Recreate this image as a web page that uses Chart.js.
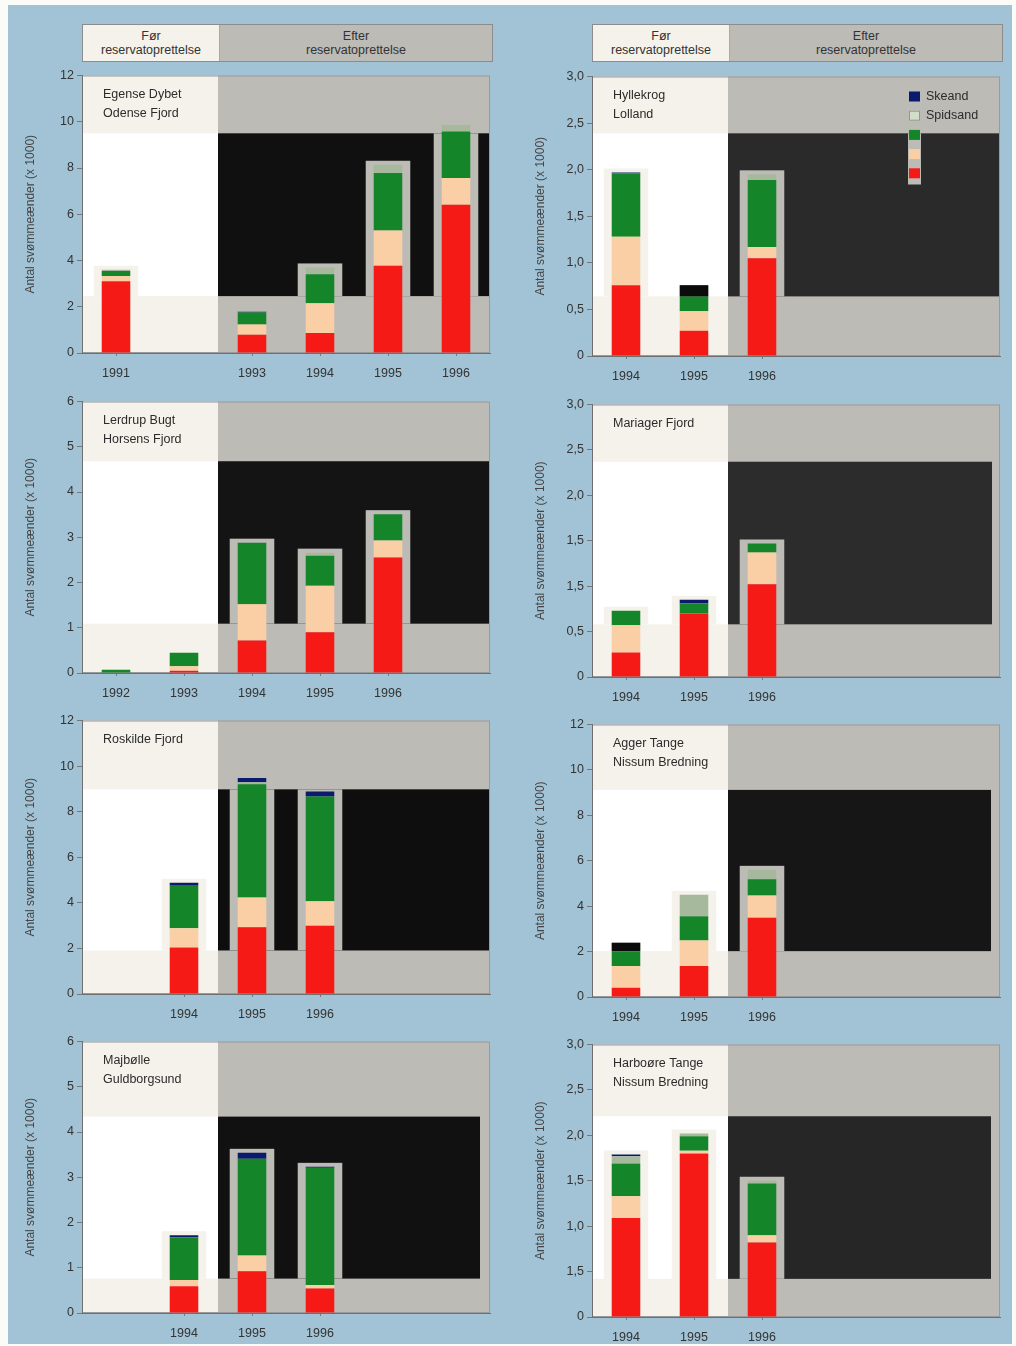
<!DOCTYPE html>
<html>
<head>
<meta charset="utf-8">
<script src="https://cdn.jsdelivr.net/npm/chart.js@4.4.1/dist/chart.umd.min.js"></script>
<style>
html, body { margin: 0; padding: 0; background: #fbfbf8; width: 1016px; height: 1346px; overflow: hidden; font-family: "Liberation Sans", Arial, sans-serif; }
#bg { position: absolute; left: 8px; top: 5px; width: 1004px; height: 1339px; background: #a2c3d5; }
.hdr { position: absolute; top: 24px; height: 38px; width: 411px; border: 1px solid #8c8c8c; box-sizing: border-box; display: flex; font-size: 12.5px; color: #333; line-height: 14px; }
.hdr div { display: flex; flex-direction: column; justify-content: center; align-items: center; }
.hdr .f { width: 136px; background: #f4f2eb; border-right: 1px solid #aaa; }
.hdr .e { flex: 1; background: #bdbbb6; }
canvas { position: absolute; }
</style>
</head>
<body>
<div id="bg"></div>
<div class="hdr" style="left:82px"><div class="f"><span>Før</span><span>reservatoprettelse</span></div><div class="e"><span>Efter</span><span>reservatoprettelse</span></div></div>
<div class="hdr" style="left:592px"><div class="f"><span>Før</span><span>reservatoprettelse</span></div><div class="e"><span>Efter</span><span>reservatoprettelse</span></div></div>
<script>
// panels, in reading order (left, right, row by row)
const panelNames = [
  ['Egense Dybet', 'Odense Fjord'],
  ['Hyllekrog', 'Lolland'],
  ['Lerdrup Bugt', 'Horsens Fjord'],
  ['Mariager Fjord'],
  ['Roskilde Fjord'],
  ['Agger Tange', 'Nissum Bredning'],
  ['Majbølle', 'Guldborgsund'],
  ['Harboøre Tange', 'Nissum Bredning']
];

const years = [
  ['1991', '', '1993', '1994', '1995', '1996'],
  ['1994', '1995', '1996', '', '', ''],
  ['1992', '1993', '1994', '1995', '1996', ''],
  ['1994', '1995', '1996', '', '', ''],
  ['', '1994', '1995', '1996', '', ''],
  ['1994', '1995', '1996', '', '', ''],
  ['', '1994', '1995', '1996', '', ''],
  ['1994', '1995', '1996', '', '', '']
];

// stacked series, bottom to top (x 1000 birds)
const redSeries = [
  [3.10, null, 0.79, 0.86, 3.77, 6.41],
  [0.76, 0.27, 1.05],
  [null, 0.05, 0.72, 0.90, 2.55],
  [0.27, 0.70, 1.02],
  [null, 2.04, 2.93, 2.99],
  [0.41, 1.36, 3.49],
  [null, 0.59, 0.92, 0.54],
  [1.09, 1.80, 0.82]
];
const peachSeries = [
  [0.23, null, 0.44, 1.29, 1.53, 1.16],
  [0.52, 0.21, 0.12],
  [null, 0.10, 0.80, 1.03, 0.38],
  [0.30, null, 0.35],
  [null, 0.85, 1.30, 1.08],
  [0.95, 1.13, 0.98],
  [null, 0.14, 0.35, 0.08],
  [0.24, 0.03, 0.08]
];
const greenSeries = [
  [0.22, null, 0.52, 1.26, 2.48, 2.01],
  [0.68, 0.16, 0.72],
  [0.07, 0.30, 1.36, 0.66, 0.58],
  [0.16, 0.11, 0.10],
  [null, 1.86, 4.97, 4.60],
  [0.66, 1.07, 0.71],
  [null, 0.94, 2.14, 2.59],
  [0.36, 0.16, 0.57]
];
const spidsand = [
  [0.05, null, null, 0.29, 0.36, 0.28],
  [null, 0.12, 0.06],
  [null, null, null, 0.07],
  [],
  [null, null, 0.09],
  [0.37, 0.94, 0.42],
  [],
  [0.08, 0.03, 0.03]
];
const skeand = [
  [null, null, 0.03],
  [0.01],
  [],
  [null, 0.04],
  [null, 0.13, 0.19, 0.21],
  [],
  [null, 0.05, 0.13, 0.02],
  [0.02]
];

const yMax = [12, 3, 6, 3, 12, 12, 6, 3];
const yStep = [2, 0.5, 1, 0.5, 2, 2, 1, 0.5];
const yTicks = [
  ['0', '2', '4', '6', '8', '10', '12'],
  ['0', '0,5', '1,0', '1,5', '2,0', '2,5', '3,0'],
  ['0', '1', '2', '3', '4', '5', '6'],
  ['0', '0,5', '1,5', '1,5', '2,0', '2,5', '3,0'],
  ['0', '2', '4', '6', '8', '10', '12'],
  ['0', '2', '4', '6', '8', '10', '12'],
  ['0', '1', '2', '3', '4', '5', '6'],
  ['0', '1,5', '1,0', '1,5', '2,0', '2,5', '3,0']
];

// scan look of each panel: dark band (value range), shade, right inset, masked bar tops
const bandLow = [2.46, 0.64, 1.09, 0.58, 1.91, 2.02, 0.76, 0.42];
const bandHigh = [9.5, 2.39, 4.68, 2.37, 8.98, 9.12, 4.34, 2.21];
const bandShade = ['#101010', '#2a2a2a', '#141414', '#2c2c2c', '#0e0e0e', '#161616', '#111111', '#262626'];
const bandInset = [0, 0, 0, 8, 0, 9, 10, 9];
const maskedBars = [[], [1], [], [], [], [0], [], []];

const plotTop = [75, 76, 401, 404, 720, 724, 1041, 1044];
const plotH = [278, 280, 272, 273, 274, 273, 272, 273];

const colors = { red: '#f51a16', peach: '#fbcfa6', green: '#15852a', spids: '#a7b99c', ske: '#0b1a6c' };
const offWhite = '#f4f2eb';
const grey = '#bdbbb6';
const font = '"Liberation Sans", Arial, sans-serif';

function barInfo(chart, j) {
  let top = Infinity, bx = null, bw = 0;
  chart.data.datasets.forEach((d, k) => {
    if (d.data[j] == null) return;
    const el = chart.getDatasetMeta(k).data[j];
    if (!el) return;
    top = Math.min(top, el.y); bx = el.x; bw = el.width;
  });
  return { top, bx, bw };
}

const backdrop = {
  id: 'backdrop',
  beforeDraw(chart, args, o) {
    const { ctx, chartArea: a, scales: { x, y } } = chart;
    const split = x.getPixelForValue(1.5);
    const bt = y.getPixelForValue(o.band[1]), bb = y.getPixelForValue(o.band[0]);
    ctx.save();
    ctx.fillStyle = offWhite; ctx.fillRect(a.left, a.top, split - a.left, a.height);
    ctx.fillStyle = grey; ctx.fillRect(split, a.top, a.right - split, a.height);
    ctx.fillStyle = '#ffffff'; ctx.fillRect(a.left, bt, split - a.left, bb - bt);
    ctx.fillStyle = o.shade; ctx.fillRect(split, bt, a.right - o.inset - split, bb - bt);
    chart.data.labels.forEach((l, j) => {
      if (o.masked.includes(j)) return;
      const b = barInfo(chart, j);
      if (b.bx === null || b.top >= bb) return;
      const ht = Math.max(b.top - 4, bt);
      ctx.fillStyle = b.bx < split ? offWhite : grey;
      ctx.fillRect(b.bx - b.bw / 2 - 8, ht, b.bw + 16, bb - ht);
    });
    ctx.strokeStyle = '#9a9a9a'; ctx.lineWidth = 1;
    ctx.strokeRect(a.left + 0.5, a.top + 0.5, a.width - 1, a.height - 1);
    ctx.fillStyle = '#2b2b2b';
    ctx.font = '12.5px ' + font;
    ctx.textBaseline = 'middle';
    o.name.forEach((t, k) => ctx.fillText(t, a.left + 21, a.top + 19 + k * 19));
    ctx.restore();
  },
  afterDatasetsDraw(chart, args, o) {
    const { ctx, scales: { y } } = chart;
    const bb = y.getPixelForValue(o.band[0]);
    ctx.save();
    o.masked.forEach(j => {
      const b = barInfo(chart, j);
      if (b.bx === null || b.top >= bb) return;
      ctx.fillStyle = '#0b0b0b';
      ctx.fillRect(b.bx - b.bw / 2, b.top, b.bw, bb - b.top);
    });
    ctx.restore();
  },
  afterDraw(chart, args, o) {
    if (!o.legend) return;
    const { ctx, chartArea: a, scales: { y } } = chart;
    const bt = y.getPixelForValue(o.band[1]);
    const sx = a.right - 91;
    const items = [
      [colors.ske, 'Skeand'], ['#d2dec9', 'Spidsand'],
      [colors.green, ''], [colors.peach, ''], [colors.red, '']
    ];
    ctx.save();
    ctx.fillStyle = grey;
    ctx.fillRect(sx - 1, bt, 13, a.top + 108 - bt);
    items.forEach(([c, t], k) => {
      const cy = a.top + 20 + k * 19.2;
      ctx.fillStyle = c;
      ctx.fillRect(sx, cy - 5, 11, 10);
      if (k === 1) { ctx.strokeStyle = '#8d9c88'; ctx.strokeRect(sx + 0.5, cy - 4.5, 10, 9); }
      if (t) {
        ctx.fillStyle = '#2b2b2b';
        ctx.font = '12.5px ' + font;
        ctx.textBaseline = 'middle';
        ctx.fillText(t, sx + 17, cy);
      }
    });
    ctx.restore();
  }
};

for (let i = 0; i < 8; i++) {
  const col = i % 2;
  const plotLeft = col === 0 ? 82 : 592;
  const cv = document.createElement('canvas');
  const w = 70 + 408 + 6;
  const h = 10 + plotH[i] + 34;
  cv.width = w;
  cv.height = h;
  cv.style.left = (plotLeft - 70) + 'px';
  cv.style.top = (plotTop[i] - 10) + 'px';
  document.body.appendChild(cv);

  const tickFont = { family: font, size: 12.5 };
  new Chart(cv, {
    type: 'bar',
    data: {
      labels: years[i],
      datasets: [
        { label: '', data: redSeries[i], backgroundColor: colors.red },
        { label: '', data: peachSeries[i], backgroundColor: colors.peach },
        { label: '', data: greenSeries[i], backgroundColor: colors.green },
        { label: 'Spidsand', data: spidsand[i], backgroundColor: colors.spids },
        { label: 'Skeand', data: skeand[i], backgroundColor: colors.ske }
      ]
    },
    options: {
      responsive: false,
      animation: false,
      layout: { padding: { top: 10, right: 6, left: 0, bottom: 0 } },
      datasets: { bar: { barPercentage: 0.42, categoryPercentage: 1, borderWidth: 0 } },
      plugins: {
        legend: { display: false },
        tooltip: { enabled: false },
        backdrop: {
          name: panelNames[i],
          band: [bandLow[i], bandHigh[i]],
          shade: bandShade[i],
          inset: bandInset[i],
          masked: maskedBars[i],
          legend: i === 1
        }
      },
      scales: {
        x: {
          stacked: true,
          afterFit: s => { s.height = 34; },
          grid: {
            display: true, offset: false, drawOnChartArea: false, drawTicks: true, tickLength: 3,
            color: c => (years[i][c.index] ? '#777' : 'rgba(0,0,0,0)')
          },
          border: { display: true, color: '#6f6f6f' },
          ticks: { padding: 10, font: tickFont, color: '#333', maxRotation: 0, autoSkip: false }
        },
        y: {
          stacked: true,
          min: 0,
          max: yMax[i],
          afterFit: s => { s.width = 70; },
          grid: { display: true, drawOnChartArea: false, drawTicks: true, tickLength: 5, color: '#777' },
          border: { display: true, color: '#6f6f6f' },
          ticks: {
            stepSize: yStep[i],
            padding: 3,
            font: tickFont,
            color: '#333',
            callback: (v, idx) => yTicks[i][idx]
          },
          title: {
            display: true,
            text: 'Antal svømmeænder (x 1000)',
            font: { family: font, size: 12 },
            color: '#444',
            padding: { top: 11, bottom: 0 }
          }
        }
      }
    },
    plugins: [backdrop]
  });
}
</script>
</body>
</html>
